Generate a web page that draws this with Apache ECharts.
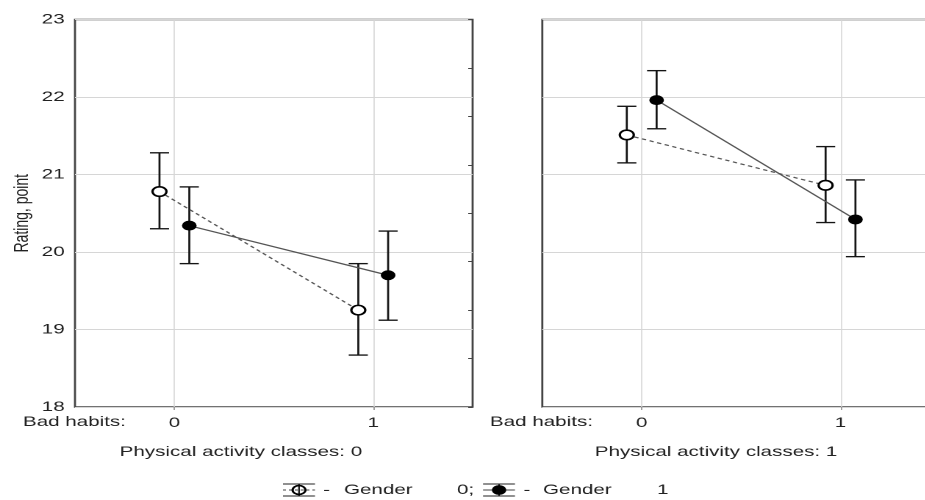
<!DOCTYPE html>
<html>
<head>
<meta charset="utf-8">
<script src="https://cdn.jsdelivr.net/npm/echarts@6/dist/echarts.min.js"></script>
<style>
html,body{margin:0;padding:0;background:#fff;overflow:hidden;width:925px;height:500px;}
#chart{width:645px;height:500px;transform:scaleX(1.47);transform-origin:0 0;}
</style>
</head>
<body>
<div id="chart"></div>
<script>
// ---- data ----
const badHabits = ['0', '1'];
const yTicks = [18, 19, 20, 21, 22, 23];
// Physical activity classes: 0
const pa0Gender0Mean = [20.78, 19.25];
const pa0Gender0Low  = [20.30, 18.67];
const pa0Gender0High = [21.28, 19.85];
const pa0Gender1Mean = [20.34, 19.70];
const pa0Gender1Low  = [19.85, 19.12];
const pa0Gender1High = [20.84, 20.27];
// Physical activity classes: 1
const pa1Gender0Mean = [21.51, 20.86];
const pa1Gender0Low  = [21.15, 20.38];
const pa1Gender0High = [21.88, 21.36];
const pa1Gender1Mean = [21.96, 20.42];
const pa1Gender1Low  = [21.59, 19.94];
const pa1Gender1High = [22.34, 20.93];

// ---- layout (chart drawn in a horizontally stretched frame, like the source image) ----
const GENDER_OFFSET = 0.075;
const FONT = '"Liberation Sans", Arial, sans-serif';
const chart = echarts.init(document.getElementById('chart'), null, { devicePixelRatio: 2 });

const catData = ['', badHabits[0], '', badHabits[1], ''];
const showIdx = (i) => i === 1 || i === 3;

function catAxis(gridIndex) {
  return {
    type: 'category', gridIndex, data: catData, boundaryGap: false, position: 'bottom',
    axisLine: { show: false },
    axisTick: { show: true, interval: showIdx, length: 3, lineStyle: { color: '#888', width: 0.8 } },
    axisLabel: { interval: showIdx, fontFamily: FONT, fontSize: 14, color: '#222', margin: 9 },
    splitLine: { show: true, interval: showIdx, lineStyle: { color: '#d6d6d6', width: 0.8 } }
  };
}
function valXAxis(gridIndex) {
  return { type: 'value', gridIndex, min: -0.5, max: 1.5, show: false, splitLine: { show: false } };
}
function yAxisMain(gridIndex, showLabels) {
  return {
    type: 'value', gridIndex, min: yTicks[0], max: yTicks[yTicks.length - 1], interval: 1,
    position: 'left',
    axisLine: { show: false }, axisTick: { show: false },
    axisLabel: { show: showLabels, fontFamily: FONT, fontSize: 14, color: '#222', margin: 7 },
    splitLine: { show: true, lineStyle: { color: '#d6d6d6', width: 1 } },
    name: showLabels ? 'Rating, point' : '',
    nameLocation: 'middle', nameGap: 29, nameRotate: 90,
    nameTextStyle: { fontFamily: FONT, fontSize: 14, color: '#222' }
  };
}

function errSeries(name, xIdx, yIdx, low, high, off) {
  return {
    type: 'custom', name, xAxisIndex: xIdx, yAxisIndex: yIdx, z: 3,
    data: badHabits.map((c, i) => [i + off, low[i], high[i]]),
    encode: { x: 0, y: [1, 2] },
    renderItem: function (params, api) {
      const x = api.value(0);
      const pLo = api.coord([x, api.value(1)]);
      const pHi = api.coord([x, api.value(2)]);
      const hw = 6.5;
      const st = { stroke: '#141414', lineWidth: 1.35 };
      return {
        type: 'group',
        children: [
          { type: 'line', shape: { x1: pLo[0], y1: pLo[1], x2: pHi[0], y2: pHi[1] }, style: st },
          { type: 'line', shape: { x1: pLo[0] - hw, y1: pLo[1], x2: pLo[0] + hw, y2: pLo[1] }, style: st },
          { type: 'line', shape: { x1: pHi[0] - hw, y1: pHi[1], x2: pHi[0] + hw, y2: pHi[1] }, style: st }
        ]
      };
    }
  };
}
function meanSeries(name, xIdx, yIdx, mean, off, filled) {
  return {
    type: 'line', name, xAxisIndex: xIdx, yAxisIndex: yIdx, z: 5,
    data: badHabits.map((c, i) => [i + off, mean[i]]),
    symbol: 'circle', symbolSize: filled ? 9 : 9.5,
    itemStyle: filled ? { color: '#000', borderColor: '#000', borderWidth: 1 }
                      : { color: '#fff', borderColor: '#000', borderWidth: 1.6 },
    lineStyle: filled ? { color: '#555', width: 1.2, type: 'solid' }
                      : { color: '#555', width: 1.2, type: [3, 2.5] },
    animation: false, silent: true
  };
}

const T = (x, y, text, extra) => ({ type: 'text', x, y, style: Object.assign({ text, font: '14px ' + FONT, fill: '#222', textVerticalAlign: 'middle' }, extra || {}) });
const L = (x1, y1, x2, y2, extra) => ({ type: 'line', shape: { x1, y1, x2, y2 }, style: Object.assign({ stroke: '#222', lineWidth: 1 }, extra || {}) });

const option = {
  animation: false,
  backgroundColor: '#fff',
  grid: [
    { left: 51, top: 19.5, width: 270.5, height: 387.5, show: true, borderColor: '#444', borderWidth: 1.4, containLabel: false },
    { left: 368.9, top: 19.5, width: 270.5, height: 387.5, show: true, borderColor: '#444', borderWidth: 1.4, containLabel: false }
  ],
  xAxis: [catAxis(0), valXAxis(0), catAxis(1), valXAxis(1)],
  yAxis: [
    yAxisMain(0, true),
    {
      type: 'value', gridIndex: 0, position: 'right', min: 0, max: 8, interval: 1,
      axisLine: { show: false }, axisLabel: { show: false }, splitLine: { show: false },
      axisTick: { show: true, inside: true, length: 3, lineStyle: { color: '#444' } }
    },
    yAxisMain(1, false)
  ],
  series: [
    errSeries('pa0g0err', 1, 0, pa0Gender0Low, pa0Gender0High, -GENDER_OFFSET),
    errSeries('pa0g1err', 1, 0, pa0Gender1Low, pa0Gender1High, GENDER_OFFSET),
    meanSeries('pa0g0', 1, 0, pa0Gender0Mean, -GENDER_OFFSET, false),
    meanSeries('pa0g1', 1, 0, pa0Gender1Mean, GENDER_OFFSET, true),
    errSeries('pa1g0err', 3, 2, pa1Gender0Low, pa1Gender0High, -GENDER_OFFSET),
    errSeries('pa1g1err', 3, 2, pa1Gender1Low, pa1Gender1High, GENDER_OFFSET),
    meanSeries('pa1g0', 3, 2, pa1Gender0Mean, -GENDER_OFFSET, false),
    meanSeries('pa1g1', 3, 2, pa1Gender1Mean, GENDER_OFFSET, true)
  ],
  graphic: [
    T(15.6, 422, 'Bad habits:'),
    T(333.3, 422, 'Bad habits:'),
    T(163.9, 452, 'Physical activity classes: 0', { textAlign: 'center' }),
    T(487.1, 452, 'Physical activity classes: 1', { textAlign: 'center' }),
    // legend item 1 (Gender 0)
    L(192.5, 484, 214.3, 484),
    L(192.5, 496, 214.3, 496),
    L(192.5, 490, 214.3, 490, { stroke: '#444', lineDash: [2, 2] }),
    L(203.4, 484, 203.4, 496, { lineWidth: 1.2 }),
    { type: 'circle', shape: { cx: 203.4, cy: 490, r: 4.4 }, style: { fill: 'rgba(255,255,255,0)', stroke: '#000', lineWidth: 1.6 } },
    T(222.2, 490, '-', { textAlign: 'center' }),
    T(234, 490, 'Gender'),
    T(310.9, 490, '0;'),
    // legend item 2 (Gender 1)
    L(328.6, 484, 350.3, 484),
    L(328.6, 496, 350.3, 496),
    L(328.6, 490, 350.3, 490, { stroke: '#444' }),
    L(339.5, 484, 339.5, 496, { lineWidth: 1.2 }),
    { type: 'circle', shape: { cx: 339.5, cy: 490, r: 4.4 }, style: { fill: '#000', stroke: '#000', lineWidth: 1 } },
    T(358.5, 490, '-', { textAlign: 'center' }),
    T(369.4, 490, 'Gender'),
    T(447, 490, '1')
  ]
};
chart.setOption(option);
</script>
</body>
</html>
